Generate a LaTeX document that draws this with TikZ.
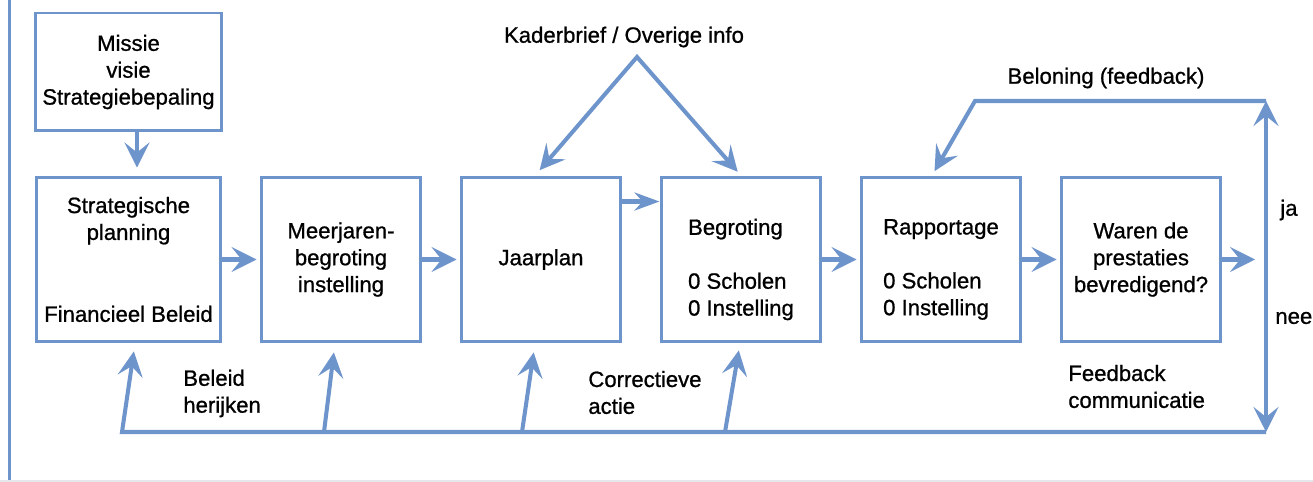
\documentclass[tikz,border=0pt]{standalone}
\usepackage{fontspec}
\setmainfont[RawFeature={embolden=0.9}]{Liberation Sans}
\usetikzlibrary{arrows.meta,calc,positioning}
\definecolor{steelblue}{RGB}{110,148,204}
\definecolor{edgegray}{RGB}{228,231,236}
\tikzstyle{box} = [draw=steelblue, line width=1.7pt, minimum width=3.2cm, minimum height=3.3cm, align=center, inner sep=0pt]
\tikzstyle{line} = [draw=steelblue, line width=2.3pt, line join=miter]
\tikzstyle{arrow} = [line, ->, >={Stealth[length=0.5cm,width=0.5cm,inset=0.2cm]}]
\tikzstyle{twoway} = [arrow, <->]
\tikzstyle{lbl} = [align=left, inner sep=0pt]

\begin{document}
\begin{tikzpicture}[x=0.02cm, y=-0.02cm, font=\fontsize{12.6}{15.3}\selectfont] %pixel grid
\useasboundingbox (0,0) rectangle (1313,482);
\draw[edgegray, line width=0.8pt] (0,481) -- (1313,481);
\draw[steelblue, line width=1.7pt] (9.5,0) -- (9.5,480);

\node[box, minimum width=3.72cm, minimum height=2.36cm] (missie) at (128.5,72) {Missie\\visie\\Strategiebepaling};
\node[box, minimum width=3.7cm] (strat) at (128.5,259.5) {Strategische\\planning\\[1.1cm]Financieel Beleid};
\node[box] (meer) at (341,259.5) {Meerjaren-\\begroting\\instelling};
\node[box] (jaar) at (541,259.5) {Jaarplan};
\node[box] (begr) at (741,259.5) {};
\node[box] (rapp) at (941,259.5) {};
\node[box] (waren) at (1141,259.5) {Waren de\\prestaties\\bevredigend?};
\node[lbl] (begrtxt) at (741,269.5) {Begroting\\[0.54cm]0 Scholen\\0 Instelling};
\node[lbl] (rapptxt) at (941,269.5) {Rapportage\\[0.54cm]0 Scholen\\0 Instelling};

\node[lbl] (kader) at (624,37) {Kaderbrief / Overige info};
\node[lbl] (belon) at (1106,78) {Beloning (feedback)};
\node[lbl, anchor=west] (beleid) at (183,393.5) {Beleid\\herijken};
\node[lbl, anchor=west] (corr) at (588,392.5) {Correctieve\\actie};
\node[lbl, anchor=west] (feedb) at (1068,386.5) {Feedback\\communicatie};
\node[lbl, anchor=west] (ja) at (1280,210) {ja};
\node[lbl, anchor=west] (nee) at (1275,318) {nee};

\coordinate (apex) at (637,57);
\coordinate (ne) at (1266,101);
\coordinate (se) at (1266,432);
\coordinate (bel) at (975,101);
\coordinate (jn) at (1266,259.5);
\coordinate (b1) at (122,432);
\coordinate (b2) at (324,432);
\coordinate (b3) at (522,432);
\coordinate (b4) at (725,432);

\draw[arrow, shorten >=0.16cm] ([xshift=0.17cm]missie.south) -- ([xshift=0.17cm]strat.north);
\draw[arrow, shorten >=0.06cm] (strat) -- (meer);
\draw[arrow, shorten >=0.06cm] (meer) -- (jaar);
\draw[arrow, >={Stealth[length=0.5cm,width=0.36cm,inset=0.16cm]}] ([yshift=-0.52cm]jaar.north east) -- ([yshift=-0.52cm]begr.north west);
\draw[arrow, shorten >=0.06cm] (begr) -- (rapp);
\draw[arrow, shorten >=0.06cm] (rapp) -- (waren);
\draw[arrow, shorten >=0.22cm] (waren) -- (jn);

\draw[twoway, shorten <=0.14cm, shorten >=0.1cm] ([xshift=-0.12cm]jaar.north) -- (apex) -- (begr.north);

\draw[twoway] (se) -- (ne);
\draw[arrow, shorten >=0.1cm] (ne) -- (bel) -- ([xshift=-0.18cm]rapp.north);

\draw[arrow, shorten >=0.16cm] (se) -- (b1) -- ([xshift=0.13cm]strat.south);
\draw[arrow, shorten >=0.18cm] (b2) -- ([xshift=-0.12cm]meer.south);
\draw[arrow, shorten >=0.18cm] (b3) -- ([xshift=-0.12cm]jaar.south);
\draw[arrow, shorten >=0.14cm] (b4) -- ([xshift=-0.02cm]begr.south);
\end{tikzpicture}
\end{document}
